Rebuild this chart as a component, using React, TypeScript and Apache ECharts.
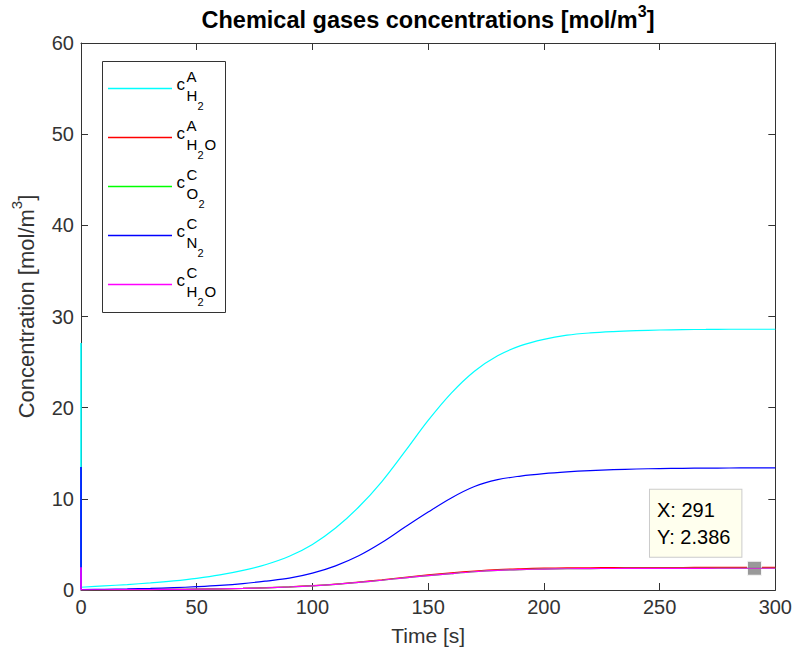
import React, { useEffect, useRef } from 'react';
import * as echarts from 'echarts';

// ---------- data ----------
const timeS = [0, 10, 20, 30, 40, 50, 60, 70, 80, 90, 100, 110, 120, 130, 140, 150, 160, 170, 180, 190, 200, 210, 220, 230, 240, 250, 260, 270, 280, 290, 300];
// initial values at t = 0 (drawn as the vertical jump on the left edge)
const initialValues = [27.1, 0.0, 0.0, 13.5, 2.5];
const cH2_A = [0.3, 0.45, 0.6, 0.78, 1.0, 1.28, 1.65, 2.15, 2.8, 3.7, 5.0, 6.8, 9.1, 11.9, 15.2, 18.6, 21.6, 24.0, 25.7, 26.8, 27.5, 27.95, 28.2, 28.35, 28.45, 28.52, 28.56, 28.58, 28.6, 28.6, 28.6];
const cH2O_A = [0.02, 0.03, 0.04, 0.05, 0.07, 0.1, 0.13, 0.18, 0.25, 0.34, 0.47, 0.65, 0.88, 1.12, 1.4, 1.65, 1.88, 2.08, 2.24, 2.33, 2.39, 2.42, 2.44, 2.45, 2.46, 2.465, 2.47, 2.475, 2.478, 2.48, 2.48];
const cO2_C = [0.02, 0.03, 0.04, 0.05, 0.07, 0.09, 0.12, 0.17, 0.24, 0.33, 0.45, 0.62, 0.84, 1.07, 1.34, 1.58, 1.8, 2.0, 2.15, 2.24, 2.3, 2.33, 2.35, 2.36, 2.37, 2.375, 2.38, 2.383, 2.385, 2.386, 2.387];
const cN2_C = [0.05, 0.08, 0.12, 0.17, 0.25, 0.36, 0.5, 0.7, 0.98, 1.3, 1.85, 2.65, 3.75, 5.2, 6.9, 8.55, 10.1, 11.35, 12.1, 12.5, 12.77, 12.96, 13.1, 13.2, 13.27, 13.32, 13.35, 13.37, 13.38, 13.4, 13.4];
const cH2O_C = [0.02, 0.03, 0.04, 0.05, 0.07, 0.09, 0.12, 0.17, 0.24, 0.33, 0.45, 0.62, 0.84, 1.07, 1.34, 1.58, 1.8, 2.0, 2.15, 2.24, 2.3, 2.33, 2.35, 2.36, 2.37, 2.375, 2.38, 2.383, 2.385, 2.386, 2.387];

const seriesColors = ['#00ffff', '#ff0000', '#00ff00', '#0000ff', '#ff00ff'];
const seriesData = [cH2_A, cH2O_A, cO2_C, cN2_C, cH2O_C];
const legendSup = ['A', 'A', 'C', 'C', 'C'];
const legendSub = ['H', 'H', 'O', 'N', 'H'];
const legendSubSub = ['2', '2', '2', '2', '2'];
const legendSubTail = ['', 'O', '', '', 'O'];
const legendNames = ['c_H2^A', 'c_H2O^A', 'c_O2^C', 'c_N2^C', 'c_H2O^C'];

const datatipX = [291];
const datatipY = [2.386];

const xTicks = { min: 0, max: 300, interval: 50 };
const yTicks = { min: 0, max: 60, interval: 10 };

const FONT = 'Liberation Sans, Arial, Helvetica, sans-serif';
const AX = '#333333';

export default function App() {
  const ref = useRef<HTMLDivElement>(null);
  useEffect(() => {
    if (!ref.current) return;
    const chart = echarts.init(ref.current, null, { renderer: 'svg' });

    const series: any[] = [];
    seriesData.forEach((vals, i) => {
      series.push({
        name: legendNames[i],
        type: 'line',
        data: timeS.map((t, k) => [t, vals[k]]),
        showSymbol: false,
        smooth: 0.35,
        clip: true,
        lineStyle: { color: seriesColors[i], width: 1.2 },
        itemStyle: { color: seriesColors[i] },
        z: 3 + i,
      });
      series.push({
        name: legendNames[i] + ' (t=0)',
        type: 'line',
        data: [[timeS[0], initialValues[i]], [timeS[0], vals[0]]],
        showSymbol: false,
        clip: false,
        lineStyle: { color: seriesColors[i], width: 1.6 },
        itemStyle: { color: seriesColors[i] },
        z: 3 + i,
      });
    });
    series[8].markPoint = {
      symbol: 'rect',
      symbolSize: 14,
      itemStyle: { color: '#999999', borderColor: '#f4f4f4', borderWidth: 1 },
      data: [{ coord: [datatipX[0], datatipY[0]] }],
      label: {
        show: true,
        position: [-97, -71],
        formatter: () => `X: ${datatipX[0]}\nY: ${datatipY[0]}`,
        color: '#000',
        fontFamily: FONT,
        fontSize: 20,
        lineHeight: 27,
        align: 'left',
        verticalAlign: 'top',
        backgroundColor: '#ffffee',
        borderColor: '#cccccc',
        borderWidth: 1,
        padding: [7, 11, 6, 7],
      },
    };

    // legend as graphic
    const lx = 102, ly = 61, lw = 123, lh = 251;
    const graphics: any[] = [
      { type: 'rect', shape: { x: lx + 0.5, y: ly + 0.5, width: lw, height: lh }, style: { fill: '#fff', stroke: AX, lineWidth: 1 }, z: 100 },
    ];
    const subW: Record<string, number> = { H: 10.8, N: 10.8, O: 11.7 };
    for (let i = 0; i < 5; i++) {
      const L = 88 + Math.round(i * 49);
      graphics.push({ type: 'polyline', shape: { points: [[108, L + 0.5], [172, L + 0.5]] }, style: { stroke: seriesColors[i], lineWidth: 1.5, fill: 'none' }, z: 101 });
      graphics.push({ type: 'text', x: 176.5, y: L - 3.8, style: { text: 'c', fontSize: 17, fontFamily: FONT, fill: '#000', verticalAlign: 'middle', align: 'left' }, z: 101 });
      graphics.push({ type: 'text', x: 186.5, y: L - 11.3, style: { text: legendSup[i], fontSize: 15, fontFamily: FONT, fill: '#000', verticalAlign: 'middle', align: 'left' }, z: 101 });
      graphics.push({ type: 'text', x: 186.5, y: L + 7.3, style: { text: legendSub[i], fontSize: 15, fontFamily: FONT, fill: '#000', verticalAlign: 'middle', align: 'left' }, z: 101 });
      const x2 = 186.5 + subW[legendSub[i]] + 0.3;
      graphics.push({ type: 'text', x: x2, y: L + 17.6, style: { text: legendSubSub[i], fontSize: 11, fontFamily: FONT, fill: '#000', verticalAlign: 'middle', align: 'left' }, z: 101 });
      if (legendSubTail[i]) {
        graphics.push({ type: 'text', x: x2 + 6.8, y: L + 7.3, style: { text: legendSubTail[i], fontSize: 15, fontFamily: FONT, fill: '#000', verticalAlign: 'middle', align: 'left' }, z: 101 });
      }
    }

    const axisCommon = {
      axisLine: { show: true, onZero: false, lineStyle: { color: AX, width: 1 } },
      axisTick: { show: true, inside: true, length: 7, lineStyle: { color: AX, width: 1 } },
      splitLine: { show: false },
    };

    chart.setOption({
      animation: false,
      backgroundColor: '#ffffff',
      title: {
        text: '{b|Chemical gases concentrations [mol/m}{s|3}{b|]}',
        left: 428,
        top: 3,
        padding: 0,
        textAlign: 'center',
        textStyle: {
          rich: {
            b: { fontSize: 23.5, fontWeight: 'bold', fontFamily: FONT, color: '#000', lineHeight: 34 },
            s: { fontSize: 16, fontWeight: 'bold', fontFamily: FONT, color: '#000', lineHeight: 16, verticalAlign: 'top' },
          },
        },
      },
      grid: { left: 81, right: 17, top: 43, bottom: 74, containLabel: false },
      xAxis: [
        {
          type: 'value', position: 'bottom', ...xTicks, ...axisCommon,
          name: 'Time [s]', nameLocation: 'middle', nameGap: 35,
          nameTextStyle: { fontSize: 21, fontFamily: FONT, color: AX },
          axisLabel: { margin: 7, fontSize: 20, fontFamily: FONT, color: AX },
        },
        {
          type: 'value', position: 'top', ...xTicks, ...axisCommon,
          axisLabel: { show: false },
        },
      ],
      yAxis: [
        {
          type: 'value', position: 'left', ...yTicks, ...axisCommon,
          name: '{n|Concentration [mol/m}{s|3}{n|]}', nameLocation: 'middle', nameGap: 38,
          nameTextStyle: {
            padding: [0, 0, 0, 20],
            rich: {
              n: { fontSize: 22, fontFamily: FONT, color: AX, lineHeight: 34 },
              s: { fontSize: 15, fontFamily: FONT, color: AX, lineHeight: 16, verticalAlign: 'top' },
            },
          },
          axisLabel: { margin: 7, fontSize: 20, fontFamily: FONT, color: AX },
        },
        {
          type: 'value', position: 'right', ...yTicks, ...axisCommon,
          axisLabel: { show: false },
        },
      ],
      graphic: graphics,
      series,
    });
    return () => chart.dispose();
  }, []);
  return <div ref={ref} style={{ position: 'fixed', left: 0, top: 0, width: 795, height: 664, background: '#fff' }} />;
}
